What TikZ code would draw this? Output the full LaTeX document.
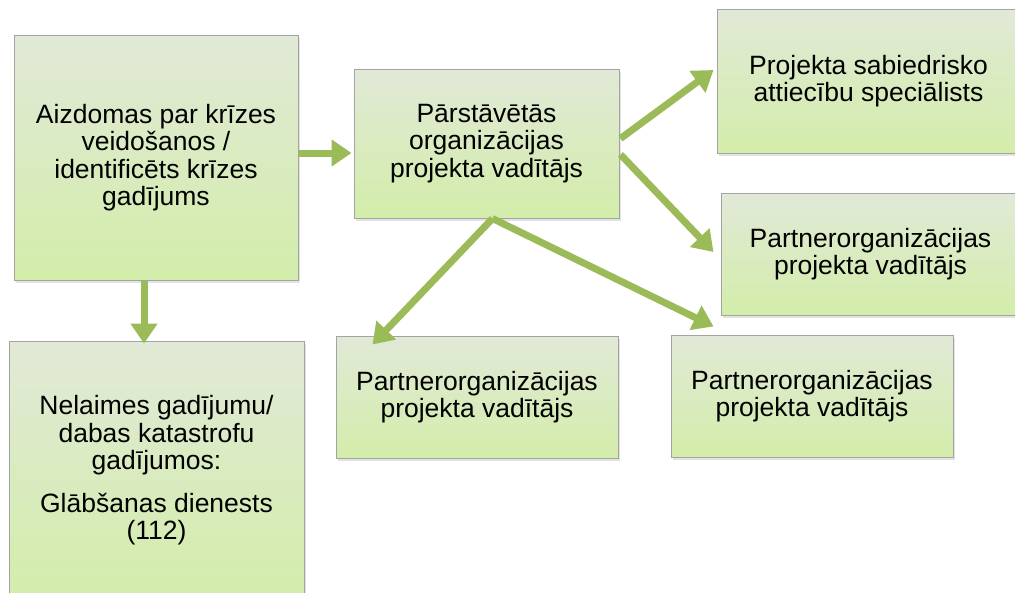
\documentclass[tikz,border=0pt]{standalone}
\usepackage{fontspec}
\setmainfont{Liberation Sans}
\usetikzlibrary{arrows.meta,shadows}
\definecolor{arrowgreen}{HTML}{9BBB59}
\definecolor{boxtop}{HTML}{E1E9D7}
\definecolor{boxbottom}{HTML}{D3EDAA}
\definecolor{boxline}{HTML}{A3A3A3}

\begin{document}
\begin{tikzpicture}[x=1pt,y=-1pt,
		box/.style={draw=boxline,line width=1pt,top color=boxtop,bottom color=boxbottom,
			drop shadow={shadow xshift=1.5pt,shadow yshift=-3pt,opacity=0.22},
			align=center,inner sep=0pt,
			font=\fontsize{26.5}{27.5}\selectfont},
		link/.style={draw=arrowgreen,line width=7pt,-{Triangle[length=20pt,width=26pt]}}]
					\useasboundingbox (0,0) rectangle (1015,592);

					\node[box,minimum width=284pt,minimum height=245pt] (suspect) at (156,157.5) {Aizdomas par krīzes\\veidošanos /\\identificēts krīzes\\gadījums};
					\node[box,minimum width=295pt,minimum height=259pt] (rescue) at (156.5,470.5) {Nelaimes gadījumu/\\dabas katastrofu\\gadījumos:\\[15pt]Glābšanas dienests\\(112)};
					\node[box,minimum width=265pt,minimum height=149pt] (lead) at (486.5,143.5) {Pārstāvētās\\organizācijas\\projekta vadītājs};
					\node[box,minimum width=303pt,minimum height=144pt] (pr) at (868.5,81) {Projekta sabiedrisko\\attiecību speciālists};
					\node[box,minimum width=299pt,minimum height=122pt] (partnerA) at (870.5,254) {Partnerorganizācijas\\projekta vadītājs};
					\node[box,minimum width=282pt,minimum height=122pt] (partnerB) at (477,397) {Partnerorganizācijas\\projekta vadītājs};
					\node[box,minimum width=282pt,minimum height=122pt] (partnerC) at (812,396) {Partnerorganizācijas\\projekta vadītājs};

					\draw[link] ([yshift=4.5pt]suspect.east) -- ([xshift=-2pt,yshift=4.5pt]suspect.east -| lead.west);
					\draw[link] ([xshift=-12pt]suspect.south) -- ([xshift=-12pt,yshift=-3pt]suspect.south |- rescue.north);
					\draw[link] ([xshift=1pt,yshift=5pt]lead.east) -- ([xshift=-3pt,yshift=11pt]pr.west);
					\draw[link] ([xshift=1pt,yshift=-11pt]lead.east) -- ([xshift=-7pt,yshift=2pt]partnerA.west);
					\draw[link] ([xshift=6pt]lead.south) -- ([xshift=37pt,yshift=-9pt]partnerB.north west);
					\draw[link] ([xshift=6pt]lead.south) -- ([xshift=43pt,yshift=8pt]partnerC.north west);

				\end{tikzpicture}
\end{document}
